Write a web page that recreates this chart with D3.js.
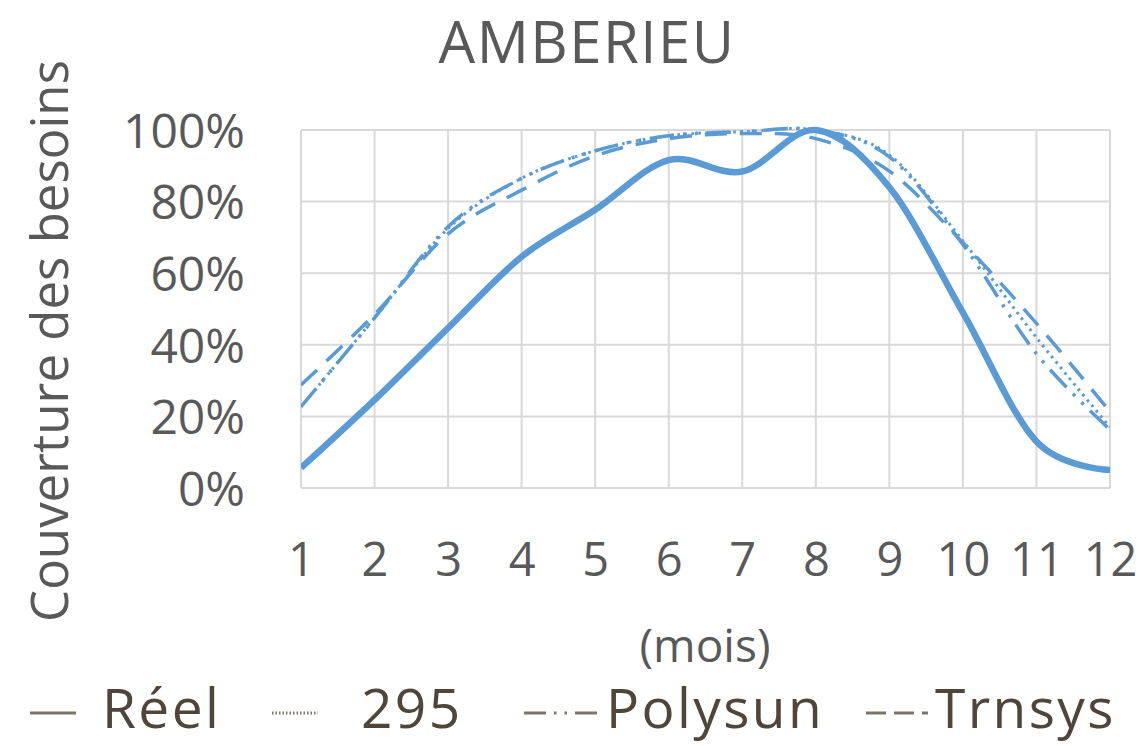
<!DOCTYPE html>
<html>
<head>
<meta charset="utf-8">
<script src="https://cdn.jsdelivr.net/npm/d3@7"></script>
<style>
  html, body { margin: 0; padding: 0; background: #ffffff; }
  svg { display: block; }
  text { font-family: "Open Sans", sans-serif; }
</style>
</head>
<body>
<svg id="chart" width="1145" height="746"></svg>
<script>
// Monthly share of needs covered (%), measured vs three simulation tools
const months = [1, 2, 3, 4, 5, 6, 7, 8, 9, 10, 11, 12];
const reel    = [5.6, 24.6, 44.7, 64.6, 77.7, 91.6, 88.4, 100, 84, 49, 13, 5];
const sim295  = [22.7, 47.5, 72.5, 86.5, 94.2, 98.4, 99.5, 100, 93, 69, 42, 17];
const polysun = [22.7, 47.5, 73, 86.5, 94.2, 98.4, 99.5, 100, 92.5, 68, 37.5, 16.3];
const trnsys  = [28.8, 48.5, 71, 83.2, 92.8, 97.6, 99, 97.6, 88.5, 68.5, 46, 21.3];
const yTicks = [0, 20, 40, 60, 80, 100];

const seriesNames = ["Réel", "295", "Polysun", "Trnsys"];
const seriesValues = [reel, sim295, polysun, trnsys];

const blue = "#5b9bd5";
const grid = "#d9d9d9";
const tickColor = "#595959";
const legendText = "#4f4538";
const legendLine = "#7d7667";

// stroke styles per series
const styles = {
  "Réel":    { width: 6.5, dash: null },
  "295":     { width: 3, dash: "2.6,4.4" },
  "Polysun": { width: 3.5, dash: "24,9,3,9,3,9" },
  "Trnsys":  { width: 3.5, dash: "22,13" }
};

const svg = d3.select("#chart");
const plot = { left: 301, right: 1110, top: 130, bottom: 488 };

const x = d3.scaleLinear().domain([1, 12]).range([plot.left, plot.right]);
const y = d3.scaleLinear().domain([0, 100]).range([plot.bottom, plot.top]);

// gridlines
const g = svg.append("g");
g.selectAll("line.h").data(yTicks).join("line")
  .attr("x1", plot.left).attr("x2", plot.right)
  .attr("y1", d => y(d)).attr("y2", d => y(d))
  .attr("stroke", grid).attr("stroke-width", 2);
g.selectAll("line.v").data(months).join("line")
  .attr("y1", plot.top).attr("y2", plot.bottom)
  .attr("x1", d => x(d)).attr("x2", d => x(d))
  .attr("stroke", grid).attr("stroke-width", 2);

// axes (labels only)
const yAxis = d3.axisLeft(y).tickValues(yTicks).tickFormat(d => d + "%").tickSize(0).tickPadding(0);
const ya = svg.append("g").attr("transform", `translate(${245},0)`).call(yAxis);
ya.select(".domain").remove();
ya.selectAll("text").attr("fill", tickColor).attr("font-size", 48)
  .attr("font-family", "'Open Sans', sans-serif").attr("dy", "0.36em");

const xAxis = d3.axisBottom(x).tickValues(months).tickFormat(d3.format("d")).tickSize(0).tickPadding(0);
const xa = svg.append("g").attr("transform", `translate(0,${543})`).call(xAxis);
xa.select(".domain").remove();
xa.selectAll("text").attr("fill", tickColor).attr("font-size", 47)
  .attr("font-family", "'Open Sans', sans-serif");

// clip to plot area
svg.append("clipPath").attr("id", "plotclip").append("rect")
  .attr("x", plot.left).attr("y", plot.top - 4)
  .attr("width", plot.right - plot.left).attr("height", plot.bottom - plot.top + 8);

const line = d3.line()
  .x((d, i) => x(months[i]))
  .y(d => y(d))
  .curve(d3.curveCardinal.tension(0));

const lines = svg.append("g").attr("clip-path", "url(#plotclip)");
// draw simulations first, measured on top
[3, 2, 1, 0].forEach(k => {
  const name = seriesNames[k];
  lines.append("path")
    .datum(seriesValues[k])
    .attr("d", line)
    .attr("fill", "none")
    .attr("stroke", blue)
    .attr("stroke-width", styles[name].width)
    .attr("stroke-dasharray", styles[name].dash)
    .attr("stroke-linejoin", "round");
});

// title
svg.append("text").attr("x", 587).attr("y", 63).attr("text-anchor", "middle")
  .attr("fill", tickColor).attr("font-size", 58).attr("letter-spacing", 1.5).text("AMBERIEU");

// axis titles
svg.append("text")
  .attr("transform", `translate(68,341) rotate(-90)`)
  .attr("text-anchor", "middle").attr("fill", tickColor).attr("font-size", 51)
  .text("Couverture des besoins");
svg.append("text").attr("x", 705).attr("y", 662).attr("text-anchor", "middle")
  .attr("fill", tickColor).attr("font-size", 46).text("(mois)");

// legend
const legendItems = [
  { name: "Réel",    x1: 30,  x2: 76,  tx: 102, dash: null,          w: 3 },
  { name: "295",     x1: 272, x2: 318, tx: 361, dash: "1.5,2",       w: 3 },
  { name: "Polysun", x1: 524, x2: 597, tx: 606, dash: "22,8,2.5,8,2.5,8", w: 3 },
  { name: "Trnsys",  x1: 866, x2: 928, tx: 935, dash: "20,8",        w: 3 }
];
const lg = svg.append("g");
legendItems.forEach(it => {
  lg.append("line").attr("x1", it.x1).attr("x2", it.x2).attr("y1", 713).attr("y2", 713)
    .attr("stroke", legendLine).attr("stroke-width", it.w)
    .attr("stroke-dasharray", it.dash);
  lg.append("text").attr("x", it.tx).attr("y", 728).attr("fill", legendText)
    .attr("font-size", 55).attr("letter-spacing", 2.4).text(it.name);
});
</script>
</body>
</html>
